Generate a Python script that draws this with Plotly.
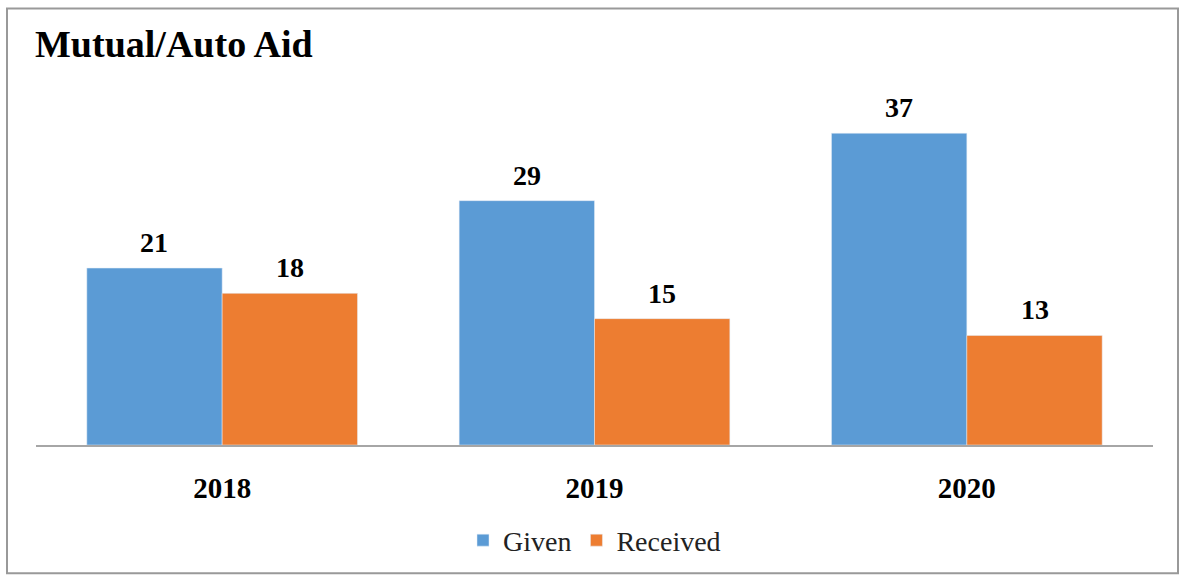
import plotly.graph_objects as go

years = ["2018", "2019", "2020"]
given = [21, 29, 37]
received = [18, 15, 13]

BLUE = "#5B9BD5"
ORANGE = "#ED7D31"
FONT = "Liberation Serif"

L, R, T, B = 36, 27, 108, 131
W, H = 1180, 578
pw, ph = W - L - R, H - T - B
BARGAP = 0.273

def px(x):
    return (x - L) / pw

def py(y):
    return (H - B - y) / ph

fig = go.Figure()
fig.add_trace(go.Bar(name="Given", x=years, y=given, marker_color=BLUE))
fig.add_trace(go.Bar(name="Received", x=years, y=received, marker_color=ORANGE))

# value labels placed at each bar top (x given as category index)
half = pw / len(years) * (1 - BARGAP) / 4
annotations = []
for vals, sign in ((given, -1), (received, 1)):
    for i, v in enumerate(vals):
        annotations.append(dict(x=i, y=v, xref="x", yref="y", text=f"<b>{v}</b>",
                                showarrow=False, xshift=sign * half, yanchor="bottom",
                                yshift=8,
                                font=dict(family=FONT, size=28, color="black")))

fig.update_layout(
    width=W, height=H,
    margin=dict(l=L, r=R, t=T, b=B),
    paper_bgcolor="white", plot_bgcolor="white",
    font=dict(family=FONT),
    barmode="group", bargap=BARGAP, bargroupgap=0,
    title=dict(text="<b>Mutual/Auto Aid</b>", x=35 / W, xanchor="left",
               y=1 - 44 / H, yanchor="middle", xref="container", yref="container",
               font=dict(family=FONT, size=38, color="black")),
    legend=dict(orientation="h", x=0.5, xanchor="center", y=py(543), yanchor="middle",
                font=dict(family=FONT, size=28, color="#222"), itemwidth=30,
                traceorder="normal"),
    xaxis=dict(type="category", range=[-0.5, len(years) - 0.5],
               showline=True, linecolor="#A6A6A6", linewidth=2, ticks="",
               ticklabelstandoff=16,
               tickfont=dict(family=FONT, size=29, color="black", weight="bold")),
    yaxis=dict(range=[0, 40], visible=False, showgrid=False),
    annotations=annotations,
    shapes=[dict(type="rect", xref="paper", yref="paper",
                 x0=px(7), x1=px(1178), y0=py(576), y1=py(8),
                 line=dict(color="#999999", width=2), layer="below")],
)

fig.write_html("out.html", config={"displayModeBar": False},
               post_script="document.body.style.margin='0';")
